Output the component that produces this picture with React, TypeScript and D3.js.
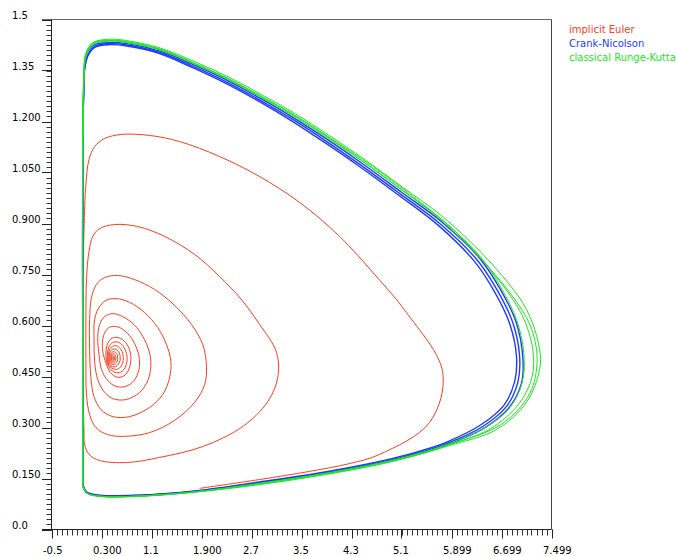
import React from "react";
import * as d3 from "d3";

const W = 676;
const H = 556;

// axis ticks and labels as printed on the chart
const xTicks = [-0.5, 0.3, 1.1, 1.9, 2.7, 3.5, 4.3, 5.1, 5.9, 6.7, 7.5];
const xTickLabels = ["-0.5", "0.300", "1.1", "1.900", "2.7", "3.5", "4.3", "5.1", "5.899", "6.699", "7.499"];
const yTicks = [0, 0.15, 0.3, 0.45, 0.6, 0.75, 0.9, 1.05, 1.2, 1.35, 1.5];
const yTickLabels = ["0.0", "0.150", "0.300", "0.450", "0.600", "0.750", "0.900", "1.050", "1.200", "1.35", "1.5"];

const seriesNames = ["implicit Euler", "Crank-Nicolson", "classical Runge-Kutta"];
const seriesColors = ["#ff3c1e", "#1e3cff", "#1ee61e"];

// implicit Euler: one trajectory spiralling into the centre
const eulerPath: [number, number][] = [
  [1.87, 0.121], [2.83, 0.147], [3.63, 0.171], [4.27, 0.194], [4.75, 0.221], [5.55, 0.315], [5.76, 0.462],
  [5.18, 0.638], [4.67, 0.75], [4.11, 0.862], [3.47, 0.962], [2.83, 1.038], [2.19, 1.097], [1.55, 1.141],
  [1.07, 1.159], [0.62, 1.162], [0.35, 1.15], [0.19, 1.126], [0.1, 1.088], [0.05, 1.015], [0.02, 0.882],
  [0.0, 0.676], [0.0, 0.441], [0.02, 0.294], [0.03, 0.25], [0.1, 0.221], [0.27, 0.203], [0.7, 0.197],
  [1.23, 0.212], [1.92, 0.244], [2.56, 0.303], [2.96, 0.376], [3.12, 0.447], [3.1, 0.521], [2.83, 0.603],
  [2.54, 0.676], [2.19, 0.744], [1.79, 0.809], [1.31, 0.862], [0.88, 0.891], [0.51, 0.897], [0.27, 0.885],
  [0.16, 0.862], [0.1, 0.818], [0.06, 0.735], [0.05, 0.618], [0.05, 0.5], [0.06, 0.397], [0.11, 0.338],
  [0.21, 0.3], [0.4, 0.279], [0.67, 0.274], [1.07, 0.285], [1.47, 0.321], [1.79, 0.374], [1.95, 0.426],
  [1.98, 0.479], [1.92, 0.544], [1.74, 0.603], [1.47, 0.659], [1.15, 0.706], [0.83, 0.735], [0.56, 0.747],
  [0.35, 0.741], [0.22, 0.721], [0.14, 0.682], [0.11, 0.618], [0.11, 0.529], [0.13, 0.447], [0.18, 0.391],
  [0.29, 0.353], [0.48, 0.332], [0.75, 0.332], [1.07, 0.359], [1.28, 0.397], [1.39, 0.447], [1.41, 0.494],
  [1.34, 0.544], [1.2, 0.594], [0.99, 0.638], [0.75, 0.668], [0.54, 0.679], [0.37, 0.674], [0.26, 0.653],
  [0.19, 0.618], [0.18, 0.559], [0.19, 0.494], [0.24, 0.441], [0.34, 0.406], [0.48, 0.385], [0.69, 0.382],
  [0.91, 0.403], [1.04, 0.438], [1.09, 0.482], [1.06, 0.526], [0.96, 0.568], [0.82, 0.603], [0.64, 0.626],
  [0.48, 0.635], [0.35, 0.626], [0.27, 0.603], [0.24, 0.565], [0.26, 0.515], [0.3, 0.471],
  [0.4, 0.438], [0.53, 0.421], [0.69, 0.421], [0.82, 0.438], [0.9, 0.471], [0.9, 0.509], [0.83, 0.547],
  [0.72, 0.576], [0.59, 0.594], [0.46, 0.597], [0.37, 0.585], [0.32, 0.559], [0.32, 0.524],
  [0.37, 0.49], [0.44, 0.462], [0.55, 0.448], [0.66, 0.452], [0.74, 0.472], [0.77, 0.503], [0.74, 0.533],
  [0.66, 0.555], [0.55, 0.565], [0.45, 0.561], [0.39, 0.543], [0.37, 0.518],
  [0.39, 0.49], [0.45, 0.47], [0.54, 0.461], [0.63, 0.465], [0.69, 0.482], [0.71, 0.505], [0.68, 0.528],
  [0.62, 0.545], [0.54, 0.552], [0.46, 0.548], [0.41, 0.533], [0.395, 0.512],
  [0.4, 0.492], [0.45, 0.477], [0.52, 0.471], [0.59, 0.475], [0.635, 0.488], [0.65, 0.505], [0.63, 0.523],
  [0.58, 0.536], [0.52, 0.541], [0.46, 0.537], [0.42, 0.525], [0.405, 0.51],
  [0.41, 0.494], [0.45, 0.482], [0.5, 0.478], [0.55, 0.482], [0.59, 0.492], [0.6, 0.505], [0.585, 0.519],
  [0.55, 0.528], [0.5, 0.531], [0.46, 0.528], [0.43, 0.519], [0.42, 0.507],
  [0.425, 0.496], [0.455, 0.487], [0.495, 0.485], [0.53, 0.488], [0.555, 0.496], [0.56, 0.505], [0.55, 0.515],
  [0.525, 0.521], [0.49, 0.523], [0.46, 0.52], [0.44, 0.513], [0.435, 0.505],
  [0.44, 0.497], [0.46, 0.491], [0.485, 0.49], [0.51, 0.492], [0.525, 0.498], [0.53, 0.505], [0.522, 0.512],
  [0.505, 0.516], [0.482, 0.517], [0.462, 0.514], [0.45, 0.509], [0.447, 0.503],
  [0.455, 0.498], [0.47, 0.495], [0.485, 0.495], [0.5, 0.497], [0.508, 0.502], [0.507, 0.508], [0.495, 0.511],
  [0.48, 0.512], [0.467, 0.509], [0.46, 0.505],
  [0.465, 0.5], [0.477, 0.498], [0.49, 0.5], [0.494, 0.505], [0.485, 0.508], [0.473, 0.506], [0.47, 0.503],
  [0.48, 0.503],
];

// Crank-Nicolson: closed orbits lying close together
const crankLoopA: [number, number][] = [
  [0, 0.132], [0.064, 0.109], [0.272, 0.1], [0.864, 0.1], [1.76, 0.112], [2.83, 0.138], [3.9, 0.168],
  [4.96, 0.206], [5.55, 0.235], [5.87, 0.256], [6.4, 0.303], [6.78, 0.362], [6.96, 0.432], [6.99, 0.509],
  [6.88, 0.609], [6.624, 0.706], [6.304, 0.794], [5.712, 0.9], [5.072, 0.988], [4.432, 1.074], [3.904, 1.141],
  [3.36, 1.206], [2.832, 1.263], [2.304, 1.316], [1.76, 1.363], [1.232, 1.403], [0.704, 1.425], [0.432, 1.429],
  [0.19, 1.421], [0.08, 1.394], [0.03, 1.353], [0.016, 1.294], [0, 1.118], [0, 0.5], [0, 0.132],
];
const crankLoopB: [number, number][] = [
  [0, 0.133], [0.066, 0.11], [0.272, 0.101], [0.864, 0.101], [1.76, 0.113], [2.83, 0.14], [3.9, 0.17],
  [4.96, 0.209], [5.55, 0.239], [5.86, 0.26], [6.37, 0.308], [6.74, 0.366], [6.91, 0.435], [6.94, 0.509],
  [6.83, 0.606], [6.58, 0.702], [6.26, 0.79], [5.68, 0.896], [5.05, 0.984], [4.41, 1.07], [3.88, 1.137],
  [3.34, 1.202], [2.82, 1.259], [2.29, 1.312], [1.75, 1.359], [1.23, 1.4], [0.704, 1.422], [0.432, 1.426],
  [0.2, 1.419], [0.085, 1.394], [0.03, 1.355], [0.016, 1.295], [0, 1.118], [0, 0.5], [0, 0.133],
];
const crankLoopC: [number, number][] = [
  [0, 0.131], [0.062, 0.108], [0.272, 0.099], [0.864, 0.099], [1.76, 0.111], [2.83, 0.137], [3.9, 0.166],
  [4.96, 0.204], [5.56, 0.232], [5.88, 0.253], [6.43, 0.299], [6.82, 0.358], [7.02, 0.43], [7.04, 0.509],
  [6.93, 0.612], [6.67, 0.71], [6.35, 0.798], [5.75, 0.904], [5.1, 0.992], [4.46, 1.078], [3.93, 1.145],
  [3.38, 1.21], [2.85, 1.267], [2.32, 1.32], [1.77, 1.367], [1.24, 1.407], [0.704, 1.429], [0.432, 1.432],
  [0.18, 1.425], [0.07, 1.4], [0.025, 1.358], [0.016, 1.3], [0, 1.118], [0, 0.5], [0, 0.131],
];

// classical Runge-Kutta: orbits drifting outwards at the right
const rungeLoopA: [number, number][] = [
  [0, 0.128], [0.07, 0.107], [0.272, 0.098], [0.864, 0.098], [1.76, 0.11], [2.83, 0.136], [3.9, 0.166],
  [4.96, 0.204], [5.55, 0.233], [5.87, 0.253], [6.42, 0.298], [6.83, 0.358], [7.03, 0.432], [7.06, 0.512],
  [6.95, 0.612], [6.69, 0.712], [6.37, 0.8], [5.77, 0.908], [5.12, 0.996], [4.47, 1.083], [3.93, 1.15],
  [3.38, 1.215], [2.85, 1.271], [2.32, 1.324], [1.77, 1.37], [1.24, 1.41], [0.704, 1.432], [0.432, 1.436],
  [0.18, 1.428], [0.07, 1.4], [0.025, 1.36], [0.016, 1.3], [0, 1.118], [0, 0.5], [0, 0.128],
];
const rungeLoopB: [number, number][] = [
  [0, 0.127], [0.075, 0.106], [0.272, 0.098], [0.864, 0.098], [1.76, 0.11], [2.83, 0.134], [3.9, 0.164],
  [4.96, 0.202], [5.87, 0.25], [6.52, 0.296], [6.98, 0.37], [7.19, 0.45], [7.2, 0.53], [7.03, 0.63],
  [6.62, 0.742], [6.0, 0.87], [5.14, 1.0], [4.48, 1.088], [3.94, 1.154], [3.39, 1.219], [2.85, 1.275],
  [2.32, 1.327], [1.77, 1.373], [1.24, 1.413], [0.704, 1.435], [0.432, 1.439], [0.16, 1.43], [0.05, 1.398],
  [0.016, 1.32], [0, 1.118], [0, 0.5], [0, 0.127],
];
const rungeLoopC: [number, number][] = [
  [0, 0.126], [0.08, 0.106], [0.272, 0.097], [0.864, 0.097], [1.76, 0.109], [2.83, 0.132], [3.9, 0.162],
  [4.96, 0.2], [5.87, 0.247], [6.62, 0.294], [7.1, 0.374], [7.31, 0.471], [7.31, 0.529], [7.1, 0.647],
  [6.55, 0.78], [5.76, 0.92], [5.12, 1.006], [4.48, 1.092], [3.95, 1.158], [3.4, 1.223], [2.86, 1.279],
  [2.33, 1.331], [1.78, 1.377], [1.24, 1.416], [0.704, 1.438], [0.432, 1.442], [0.16, 1.432], [0.048, 1.4],
  [0.016, 1.324], [0, 1.118], [0, 0.5], [0, 0.126],
];
const rungeLoopD: [number, number][] = [
  [0, 0.127], [0.07, 0.107], [0.272, 0.098], [0.864, 0.098], [1.76, 0.11], [2.83, 0.135], [3.9, 0.165],
  [4.96, 0.203], [5.87, 0.25], [6.7, 0.31], [7.15, 0.4], [7.27, 0.5], [7.16, 0.6], [6.86, 0.69],
  [6.32, 0.806], [5.7, 0.915], [5.1, 1.0], [4.46, 1.086], [3.94, 1.152], [3.39, 1.217], [2.85, 1.273],
  [2.32, 1.326], [1.77, 1.372], [1.24, 1.412], [0.704, 1.434], [0.432, 1.438], [0.17, 1.429], [0.055, 1.396],
  [0.016, 1.315], [0, 1.118], [0, 0.5], [0, 0.127],
];

const crankLoops = [crankLoopA, crankLoopB, crankLoopC];
const rungeLoops = [rungeLoopA, rungeLoopB, rungeLoopC, rungeLoopD];

const x = d3.scaleLinear().domain([-0.5, 7.5]).range([51.5, 551.5]);
const y = d3.scaleLinear().domain([0, 1.5]).range([529.5, 19.5]);

const line = d3
  .line<[number, number]>()
  .x((d) => x(d[0]))
  .y((d) => y(d[1]))
  .curve(d3.curveCatmullRom.alpha(0.5));

const xMinor = d3.range(0, 101).map((i) => -0.5 + i * 0.08);
const yMinor = d3.range(0, 101).map((i) => i * 0.015);

const font = "'DejaVu Sans', Verdana, sans-serif";

export default function App() {
  const [x0, x1] = x.range();
  const [y0, y1] = y.range();
  return (
    <svg
      width={W}
      height={H}
      style={{ position: "absolute", left: 0, top: 0, background: "#fff" }}
      fontFamily={font}
      fontSize={10}
    >
      {/* frame */}
      <line x1={42} x2={x1} y1={y1} y2={y1} stroke="#666" />
      <line x1={x1} x2={x1} y1={y1} y2={y0} stroke="#444" />

      {/* curves */}
      <path d={line(eulerPath) || ""} fill="none" stroke={seriesColors[0]} strokeWidth={1} />
      {crankLoops.map((l, i) => (
        <path key={"c" + i} d={line(l) || ""} fill="none" stroke={seriesColors[1]} strokeWidth={1.4} />
      ))}
      {rungeLoops.map((l, i) => (
        <path key={"r" + i} d={line(l) || ""} fill="none" stroke={seriesColors[2]} strokeWidth={1} />
      ))}

      {/* y axis */}
      <line x1={x0} x2={x0} y1={y1} y2={y0 + 1} stroke="#222" />
      {yMinor.map((v, i) => (
        <line key={"ym" + i} x1={x0 - 5} x2={x0} y1={Math.round(y(v)) + 0.5} y2={Math.round(y(v)) + 0.5} stroke="#333" />
      ))}
      {yTicks.map((v, i) => (
        <g key={"yt" + i}>
          <line x1={42} x2={x0} y1={Math.round(y(v)) + 0.5} y2={Math.round(y(v)) + 0.5} stroke="#222" />
          <text x={12} y={y(v) - 1} fill="#000">
            {yTickLabels[i]}
          </text>
        </g>
      ))}

      {/* x axis */}
      <line x1={42} x2={x1} y1={y0} y2={y0} stroke="#222" />
      {xMinor.map((v, i) => (
        <line key={"xm" + i} x1={Math.round(x(v)) + 0.5} x2={Math.round(x(v)) + 0.5} y1={y0} y2={y0 + 6} stroke="#333" />
      ))}
      {xTicks.map((v, i) => (
        <g key={"xt" + i}>
          <line x1={Math.round(x(v)) + 0.5} x2={Math.round(x(v)) + 0.5} y1={y0} y2={y0 + 9} stroke="#222" />
          <text x={x(v) - 8.5} y={554} fill="#000">
            {xTickLabels[i]}
          </text>
        </g>
      ))}

      {/* legend */}
      {seriesNames.map((n, i) => (
        <text key={"lg" + i} x={569} y={33 + i * 14} fill={seriesColors[i]}>
          {n}
        </text>
      ))}
    </svg>
  );
}
